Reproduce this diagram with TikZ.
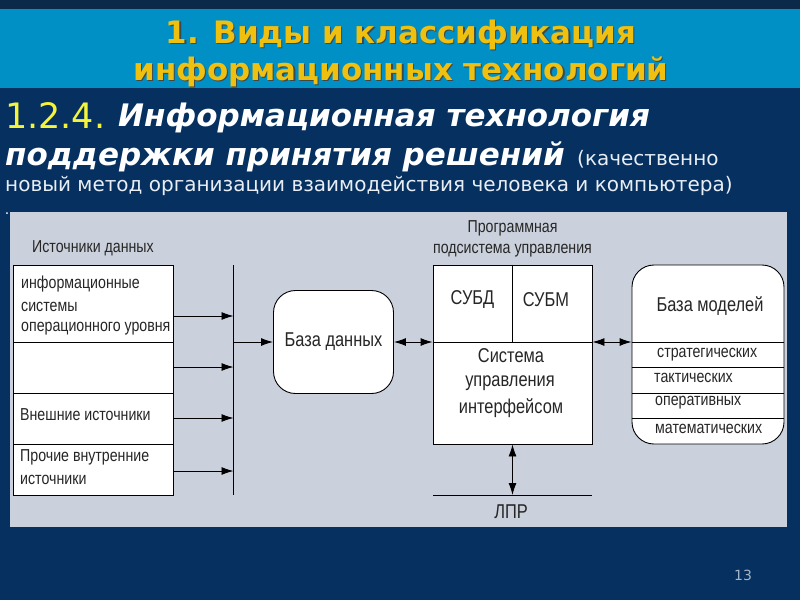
\documentclass[tikz,border=0pt]{standalone}
\usepackage{fontspec}
\setmainfont{DejaVu Sans}
\newfontfamily\diag[FakeStretch=0.82]{Liberation Sans}
\usetikzlibrary{arrows.meta}
\definecolor{navy}{HTML}{05305F}
\definecolor{topnavy}{HTML}{0B2A4A}
\definecolor{band}{HTML}{0090C6}
\definecolor{panel}{HTML}{CBD1DC}
\definecolor{gold}{HTML}{F0C010}
\definecolor{shade}{HTML}{3A4A50}
\definecolor{lemon}{HTML}{F4F43C}
\definecolor{pale}{HTML}{E8EEF4}
\newcommand{\shadowed}[1]{\rlap{\kern1.2pt\raisebox{-1.6pt}{\textcolor{shade}{#1}}}\textcolor{gold}{#1}}
\tikzset{
  x=1pt,y=-1pt,
  cell/.style={draw=black,fill=white,line width=0.9pt,inner sep=0pt,rectangle},
  ln/.style={draw=black,line width=0.9pt},
  flow/.style={ln,-{Latex[length=12pt,width=8pt]}},
  both/.style={ln,{Latex[length=12pt,width=8pt]}-{Latex[length=12pt,width=8pt]}},
  lab/.style={font=\diag\fontsize{17.3}{19}\selectfont,text=black!85,inner sep=0pt,anchor=west,yshift=-1.5pt},
  labc/.style={font=\diag\fontsize{20}{22}\selectfont,text=black!85,inner sep=0pt},
  ttl/.style={font=\bfseries\fontsize{30.9}{33}\selectfont,inner sep=0pt,yshift=-2.5pt},
  head/.style={font=\bfseries\itshape\fontsize{31}{33}\selectfont,text=white,inner sep=0pt,anchor=west,yshift=-2pt},
  note/.style={font=\fontsize{20}{22}\selectfont,text=pale,inner sep=0pt,anchor=west,yshift=-1.5pt}
}
\begin{document}
\begin{tikzpicture}
\useasboundingbox (0,0) rectangle (800,600);
\fill[navy] (0,0) rectangle (800,600);
\fill[topnavy] (0,0) rectangle (800,9);
\fill[band] (0,9) rectangle (800,88);
\fill[panel] (10,212) rectangle (787,527);
% title
\node[ttl] (t1) at (401,33) {\shadowed{1. Виды и классификация}};
\node[ttl] (t2) at (401,70) {\shadowed{информационных технологий}};
% heading
\node[inner sep=0pt,anchor=west,text=lemon,font=\fontsize{35}{37}\selectfont] (num) at (5,116) {1.2.4.};
\node[head] (h1) at (118,116) {Информационная технология};
\node[head] (h2) at (5,155) {поддержки принятия решений};
\node[note] (n1) at (577,158) {(качественно};
\node[note] (n2) at (5,184) {новый метод организации взаимодействия человека и компьютера)};
\node[inner sep=0pt,text=white,font=\fontsize{14}{14}\selectfont] (dot) at (7,214) {.};
% sources
\node[lab] (srct) at (32,247) {Источники данных};
\node[cell,minimum width=160pt,minimum height=77pt] (s1) at (93.5,303.5) {};
\node[cell,minimum width=160pt,minimum height=51pt] (s2) at (93.5,367.5) {};
\node[cell,minimum width=160pt,minimum height=51pt] (s3) at (93.5,418.5) {};
\node[cell,minimum width=160pt,minimum height=51pt] (s4) at (93.5,469.5) {};
\node[lab] (a1) at (21,283) {информационные};
\node[lab] (a2) at (21,305) {системы};
\node[lab] (a3) at (21,327) {операционного уровня};
\node[lab] (a4) at (20,413) {Внешние источники};
\node[lab] (a5) at (20,456) {Прочие внутренние};
\node[lab] (a6) at (20,478) {источники};
% bus
\coordinate (bt) at (233.5,265);
\coordinate (bb) at (233.5,495);
\draw[ln] (bt) -- (bb);
\coordinate (y1) at (173.5,316);
\coordinate (y2) at (173.5,367);
\coordinate (y3) at (173.5,418);
\coordinate (y4) at (173.5,471);
\draw[flow] (y1) -- (y1 -| bt);
\draw[flow] (y2) -- (y2 -| bt);
\draw[flow] (y3) -- (y3 -| bt);
\draw[flow] (y4) -- (y4 -| bt);
% database
\node[cell,rounded corners=22pt,minimum width=120pt,minimum height=103pt,font=\diag\fontsize{20}{22}\selectfont,text=black!85] (db) at (333.5,342) {База данных};
\draw[flow] (db.west -| bt) -- (db.west);
% control
\node[lab,anchor=center] (c1) at (512.5,227) {Программная};
\node[lab,anchor=center] (c2) at (512.5,249) {подсистема управления};
\node[cell,minimum width=159pt,minimum height=179pt] (ctrl) at (512.5,354.5) {};
\coordinate (mid) at (512.5,342);
\draw[ln] (ctrl.north) -- (mid);
\draw[ln] (mid -| ctrl.west) -- (mid -| ctrl.east);
\node[labc] (c3) at (472.5,300) {СУБД};
\node[labc] (c4) at (546,300) {СУБМ};
\node[labc] (c5) at (511,356) {Система};
\node[labc] (c6) at (510,383) {управления};
\node[labc] (c7) at (511,408) {интерфейсом};
\draw[both] (db.east) -- (db.east -| ctrl.west);
% models
\node[cell,rounded corners=22pt,minimum width=152pt,minimum height=179pt] (mod) at (708,354.5) {};
\draw[ln] (mid -| mod.west) -- (mid -| mod.east);
\coordinate (m2) at (708,367);
\coordinate (m3) at (708,393);
\coordinate (m4) at (708,418);
\draw[ln] (m2 -| mod.west) -- (m2 -| mod.east);
\draw[ln] (m3 -| mod.west) -- (m3 -| mod.east);
\draw[ln] (m4 -| mod.west) -- (m4 -| mod.east);
\draw[both] (mid -| ctrl.east) -- (mid -| mod.west);
\node[labc] (m0) at (710,306) {База моделей};
\node[lab] (m5) at (657,353) {стратегических};
\node[lab] (m6) at (654,376) {тактических};
\node[lab] (m7) at (655,401) {оперативных};
\node[lab] (m8) at (655,427) {математических};
% LPR
\coordinate (ll) at (433,495);
\coordinate (lr) at (592,495);
\draw[ln] (ll) -- (lr);
\draw[both] (ctrl.south) -- (ctrl.south |- ll);
\node[lab,anchor=center,font=\diag\fontsize{20}{22}\selectfont,yshift=1.5pt] (lpr) at (511,512) {ЛПР};
% page
\node[inner sep=0pt,text=pale!70!navy,font=\fontsize{14}{15}\selectfont] (pg) at (743,575) {13};
\end{tikzpicture}
\end{document}
